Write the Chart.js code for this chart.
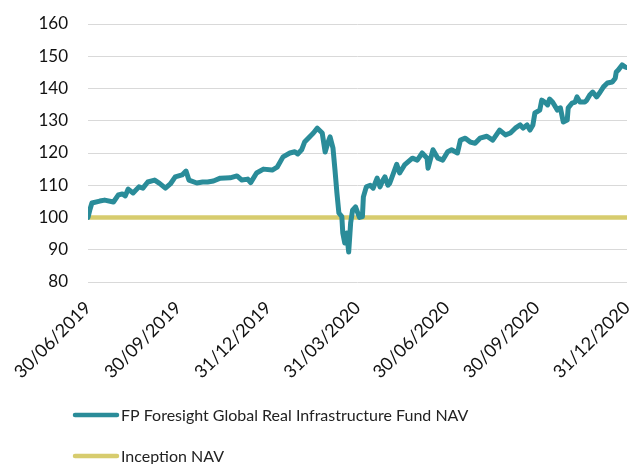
<!DOCTYPE html>
<html>
<head>
<meta charset="utf-8">
<script src="https://cdn.jsdelivr.net/npm/chart.js@4.4.1/dist/chart.umd.min.js"></script>
<style>
  html, body { margin: 0; padding: 0; background: #fff; }
  canvas { display: block; }
</style>
</head>
<body>
<canvas id="navChart" width="630" height="464"></canvas>
<script>
// days since 30/06/2019
var navDays = [0, 2, 4, 12, 17, 26, 31, 35, 38, 41, 46, 52, 56, 61, 68, 73, 79, 84, 89, 96,
  100, 103, 111, 117, 122, 128, 135, 145, 152, 157, 163, 166, 172, 179, 188, 193, 199, 206, 211, 214,
  218, 221, 227, 230, 234, 239, 242, 245, 247, 250, 252, 254, 256, 259, 260, 262, 264, 266, 268, 270,
  273, 277, 280, 281, 284, 288, 291, 295, 298, 301, 303, 306, 308, 315, 318, 323, 331, 336, 341, 346,
  347, 352, 357, 362, 367, 371, 377, 380, 385, 390, 395, 400, 407, 413, 420, 426, 431, 436, 441, 444,
  448, 451, 454, 456, 461, 463, 466, 469, 471, 474, 479, 482, 485, 489, 490, 494, 497, 499, 502, 507,
  509, 512, 515, 519, 522, 526, 530, 535, 538, 539, 541, 545, 548, 550];

var navValues = [100, 102.5, 104.5, 105.1, 105.4, 104.8, 107, 107.3, 106.7, 108.8, 107.6, 109.5, 109.1, 111, 111.6, 110.6, 109.1, 110.4, 112.6, 113.2,
  114.4, 111.6, 110.7, 111.0, 111, 111.3, 112.2, 112.3, 112.9, 111.6, 111.9, 110.8, 113.8, 115.0, 114.7, 115.6, 118.8, 120, 120.4, 119.7,
  121, 123.4, 125.3, 126.2, 127.7, 126.2, 120.3, 123.4, 125, 121.5, 114.8, 107.6, 101.4, 100.3, 95.2, 92.1, 95.2, 89.3, 98.3, 102.3,
  103.3, 100, 100.3, 106.4, 109.5, 110, 109.1, 112.2, 109.5, 111.6, 112.6, 110, 110.7, 116.5, 113.8, 116.3, 118.4, 117.8, 120, 118.4,
  115.3, 121, 118.4, 117.8, 120.4, 121, 120, 124, 124.6, 123.4, 123, 124.6, 125.2, 124, 127.1, 125.6, 126.2, 127.7, 128.7, 127.7,
  128.7, 127.1, 128.7, 132.4, 133.3, 136.4, 135.8, 134.9, 136.7, 135.8, 133.3, 134, 129.6, 130.2, 134, 135.5, 135.8, 137.4, 135.8, 135.8,
  136.4, 138, 138.9, 137.4, 138.6, 140.5, 141.7, 142, 143.2, 145.1, 145.7, 147.3, 146.7, 146.5];

var inceptionNav = 100;

var tickDays = [0, 92, 184, 275, 366, 458, 550];
var tickLabels = ['30/06/2019', '30/09/2019', '31/12/2019', '31/03/2020', '30/06/2020', '30/09/2020', '31/12/2020'];
var yTicks = [80, 90, 100, 110, 120, 130, 140, 150, 160];

var seriesNames = ['FP Foresight Global Real Infrastructure Fund NAV', 'Inception NAV'];
var tealColor = '#2a8c99';
var sandColor = '#d7cc6e';

var navPoints = navDays.map(function (d, i) { return { x: d, y: navValues[i] }; });
var inceptionPoints = [{ x: 0, y: inceptionNav }, { x: 550, y: inceptionNav }];

// legend stacked one item per row, drawn under the axis
var stackedLegend = {
  id: 'stackedLegend',
  afterDraw: function (chart) {
    var ctx = chart.ctx;
    var rows = [415, 456];
    ctx.save();
    chart.data.datasets.forEach(function (ds, i) {
      var y = rows[i];
      ctx.strokeStyle = ds.borderColor;
      ctx.lineWidth = 4.5;
      ctx.lineCap = 'round';
      ctx.beginPath();
      ctx.moveTo(75, y);
      ctx.lineTo(117, y);
      ctx.stroke();
      ctx.fillStyle = '#222';
      ctx.font = '16px Lato';
      ctx.textBaseline = 'middle';
      ctx.textAlign = 'left';
      ctx.fillText(ds.label, 121, y + 1);
    });
    ctx.restore();
  }
};

var ctx = document.getElementById('navChart').getContext('2d');

var navChart = new Chart(ctx, {
  type: 'line',
  data: {
    datasets: [
      {
        label: seriesNames[0],
        data: navPoints,
        borderColor: tealColor,
        borderWidth: 5,
        pointRadius: 0,
        tension: 0,
        borderJoinStyle: 'round',
        borderCapStyle: 'round',
        order: 1
      },
      {
        label: seriesNames[1],
        data: inceptionPoints,
        borderColor: sandColor,
        borderWidth: 4.5,
        pointRadius: 0,
        order: 2
      }
    ]
  },
  options: {
    responsive: false,
    animation: false,
    layout: { padding: { top: 24, right: 3, left: 0, bottom: 72 } },
    plugins: {
      legend: { display: false },
      tooltip: { enabled: false }
    },
    scales: {
      x: {
        type: 'linear',
        min: 0,
        max: 550,
        grid: { display: false },
        border: { display: false },
        afterBuildTicks: function (scale) {
          scale.ticks = tickDays.map(function (d) { return { value: d }; });
        },
        afterFit: function (scale) {
          scale.height = 110;
          scale.paddingLeft = 0;
          scale.paddingRight = 0;
        },
        ticks: {
          minRotation: 45,
          maxRotation: 45,
          padding: 7,
          color: '#111',
          font: { family: 'Lato', size: 18 },
          callback: function (value, index) { return tickLabels[index]; }
        }
      },
      y: {
        min: 80,
        max: 160,
        afterBuildTicks: function (scale) {
          scale.ticks = yTicks.map(function (v) { return { value: v }; });
        },
        afterFit: function (scale) {
          scale.width = 88;
          scale.paddingTop = 0;
          scale.paddingBottom = 0;
        },
        grid: { color: '#d9d9d9', lineWidth: 1, drawTicks: false },
        border: { display: false },
        ticks: {
          padding: 20,
          color: '#111',
          font: { family: 'Lato', size: 17 }
        }
      }
    }
  },
  plugins: [stackedLegend]
});
</script>
</body>
</html>
